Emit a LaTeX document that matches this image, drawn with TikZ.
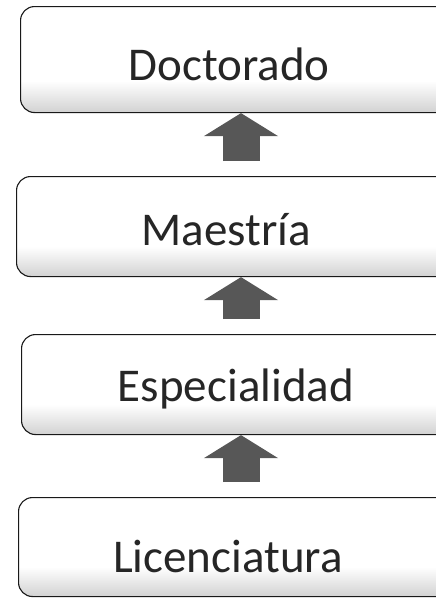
\documentclass[tikz,border=0pt]{standalone}
\usepackage{fontspec}
\setmainfont{Carlito}
\usetikzlibrary{arrows.meta, calc}

% grey band at the foot of each box
\pgfdeclareverticalshading{boxfade}{100bp}{color(0bp)=(black!48); color(18bp)=(black!26); color(40bp)=(white); color(100bp)=(white)}

\begin{document}
\begin{tikzpicture}[x=1pt, y=-1pt,
        levelbox/.style={draw=black!90, line width=1.1pt, rounded corners=14pt, shading=boxfade,
            minimum width=460pt, minimum height=#1, anchor=north west, inner sep=0pt},
        leveltext/.style={anchor=base, inner sep=0pt, text=black!85, font=\fontsize{47}{50}\selectfont},
        uparrow/.style={draw=black!66, line width=37pt, shorten <=15pt,
            -{Triangle[width=73pt, length=23pt]}}]
    \useasboundingbox (0,0) rectangle (436,598);
    \clip (0,0) rectangle (436,598);
    % boxes, top to bottom
    \node [levelbox=106pt] (doc) at (20,6) {};
    \node [levelbox=100pt] (mae) at (16,176) {};
    \node [levelbox=100pt] (esp) at (21,334) {};
    \node [levelbox=99pt] (lic) at (18,497) {};
    % labels
    \node [leveltext] (docText) at (229,80) {Doctorado};
    \node [leveltext] (maeText) at (226,245) {Maestría};
    \node [leveltext] (espText) at (236,401) {Especialidad};
    \node [leveltext] (licText) at (228,572) {Licenciatura};
    % arrows
    \coordinate (axis) at (241,0);
    \draw [uparrow] (lic.north -| axis) -- (esp.south -| axis);
    \draw [uparrow] (esp.north -| axis) -- (mae.south -| axis);
    \draw [uparrow] (mae.north -| axis) -- (doc.south -| axis);
\end{tikzpicture}
\end{document}
